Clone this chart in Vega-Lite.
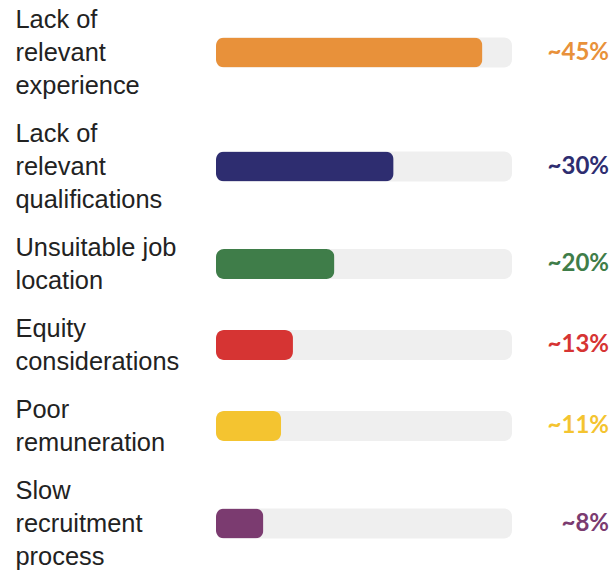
{
  "$schema": "https://vega.github.io/schema/vega-lite/v6.json",
  "padding": {"left": 15, "top": 3, "right": 0, "bottom": 0},
  "background": "white",
  "spacing": 15,
  "config": {
    "view": {"stroke": null},
    "axisY": {"title": null, "domain": false, "ticks": false, "grid": false, "labelAlign": "left", "labelBaseline": "middle", "labelPadding": 201, "labelFont": "Liberation Sans", "labelFontSize": 25.4, "labelLineHeight": 33, "labelColor": "#222222", "labelLimit": 300, "labelExpr": "split(datum.label, '|')"}
  },
  "data": {"values": [
    {"label": "Lack of|relevant|experience", "value": 45, "display": "~45%"},
    {"label": "Lack of|relevant|qualifications", "value": 30, "display": "~30%"},
    {"label": "Unsuitable job|location", "value": 20, "display": "~20%"},
    {"label": "Equity|considerations", "value": 13, "display": "~13%"},
    {"label": "Poor|remuneration", "value": 11, "display": "~11%"},
    {"label": "Slow|recruitment|process", "value": 8, "display": "~8%"}
  ]},
  "vconcat": [
    {"width": 296, "height": 99, "transform": [{"filter": "datum.label == 'Lack of|relevant|experience'"}],
     "encoding": {"y": {"field": "label", "type": "nominal", "axis": {"labelOffset": -33}}},
     "layer": [
      {"mark": {"type": "bar", "color": "#efefef", "cornerRadius": 8, "height": 30}, "encoding": {"x": {"datum": 50, "type": "quantitative", "scale": {"domain": [0, 50]}, "axis": null}}},
      {"mark": {"type": "bar", "cornerRadius": 8, "height": 30}, "encoding": {"x": {"field": "value", "type": "quantitative"}, "color": {"field": "label", "type": "nominal", "legend": null, "scale": {"domain": ["Lack of|relevant|experience", "Lack of|relevant|qualifications", "Unsuitable job|location", "Equity|considerations", "Poor|remuneration", "Slow|recruitment|process"], "range": ["#e8913a", "#2e2d70", "#3f7d49", "#d63433", "#f4c430", "#7b3b70"]}}}},
      {"mark": {"type": "text", "align": "right", "baseline": "middle", "dx": 97, "font": "Lato", "fontWeight": "bold", "fontSize": 24}, "encoding": {"x": {"datum": 50, "type": "quantitative"}, "text": {"field": "display"}, "color": {"field": "label", "type": "nominal", "legend": null}}}
     ]},
    {"width": 296, "height": 99, "transform": [{"filter": "datum.label == 'Lack of|relevant|qualifications'"}],
     "encoding": {"y": {"field": "label", "type": "nominal", "axis": {"labelOffset": -33}}},
     "layer": [
      {"mark": {"type": "bar", "color": "#efefef", "cornerRadius": 8, "height": 30}, "encoding": {"x": {"datum": 50, "type": "quantitative", "scale": {"domain": [0, 50]}, "axis": null}}},
      {"mark": {"type": "bar", "cornerRadius": 8, "height": 30}, "encoding": {"x": {"field": "value", "type": "quantitative"}, "color": {"field": "label", "type": "nominal", "legend": null, "scale": {"domain": ["Lack of|relevant|experience", "Lack of|relevant|qualifications", "Unsuitable job|location", "Equity|considerations", "Poor|remuneration", "Slow|recruitment|process"], "range": ["#e8913a", "#2e2d70", "#3f7d49", "#d63433", "#f4c430", "#7b3b70"]}}}},
      {"mark": {"type": "text", "align": "right", "baseline": "middle", "dx": 97, "font": "Lato", "fontWeight": "bold", "fontSize": 24}, "encoding": {"x": {"datum": 50, "type": "quantitative"}, "text": {"field": "display"}, "color": {"field": "label", "type": "nominal", "legend": null}}}
     ]},
    {"width": 296, "height": 66, "transform": [{"filter": "datum.label == 'Unsuitable job|location'"}],
     "encoding": {"y": {"field": "label", "type": "nominal", "axis": {"labelOffset": -16.5}}},
     "layer": [
      {"mark": {"type": "bar", "color": "#efefef", "cornerRadius": 8, "height": 30}, "encoding": {"x": {"datum": 50, "type": "quantitative", "scale": {"domain": [0, 50]}, "axis": null}}},
      {"mark": {"type": "bar", "cornerRadius": 8, "height": 30}, "encoding": {"x": {"field": "value", "type": "quantitative"}, "color": {"field": "label", "type": "nominal", "legend": null, "scale": {"domain": ["Lack of|relevant|experience", "Lack of|relevant|qualifications", "Unsuitable job|location", "Equity|considerations", "Poor|remuneration", "Slow|recruitment|process"], "range": ["#e8913a", "#2e2d70", "#3f7d49", "#d63433", "#f4c430", "#7b3b70"]}}}},
      {"mark": {"type": "text", "align": "right", "baseline": "middle", "dx": 97, "font": "Lato", "fontWeight": "bold", "fontSize": 24}, "encoding": {"x": {"datum": 50, "type": "quantitative"}, "text": {"field": "display"}, "color": {"field": "label", "type": "nominal", "legend": null}}}
     ]},
    {"width": 296, "height": 66, "transform": [{"filter": "datum.label == 'Equity|considerations'"}],
     "encoding": {"y": {"field": "label", "type": "nominal", "axis": {"labelOffset": -16.5}}},
     "layer": [
      {"mark": {"type": "bar", "color": "#efefef", "cornerRadius": 8, "height": 30}, "encoding": {"x": {"datum": 50, "type": "quantitative", "scale": {"domain": [0, 50]}, "axis": null}}},
      {"mark": {"type": "bar", "cornerRadius": 8, "height": 30}, "encoding": {"x": {"field": "value", "type": "quantitative"}, "color": {"field": "label", "type": "nominal", "legend": null, "scale": {"domain": ["Lack of|relevant|experience", "Lack of|relevant|qualifications", "Unsuitable job|location", "Equity|considerations", "Poor|remuneration", "Slow|recruitment|process"], "range": ["#e8913a", "#2e2d70", "#3f7d49", "#d63433", "#f4c430", "#7b3b70"]}}}},
      {"mark": {"type": "text", "align": "right", "baseline": "middle", "dx": 97, "font": "Lato", "fontWeight": "bold", "fontSize": 24}, "encoding": {"x": {"datum": 50, "type": "quantitative"}, "text": {"field": "display"}, "color": {"field": "label", "type": "nominal", "legend": null}}}
     ]},
    {"width": 296, "height": 66, "transform": [{"filter": "datum.label == 'Poor|remuneration'"}],
     "encoding": {"y": {"field": "label", "type": "nominal", "axis": {"labelOffset": -16.5}}},
     "layer": [
      {"mark": {"type": "bar", "color": "#efefef", "cornerRadius": 8, "height": 30}, "encoding": {"x": {"datum": 50, "type": "quantitative", "scale": {"domain": [0, 50]}, "axis": null}}},
      {"mark": {"type": "bar", "cornerRadius": 8, "height": 30}, "encoding": {"x": {"field": "value", "type": "quantitative"}, "color": {"field": "label", "type": "nominal", "legend": null, "scale": {"domain": ["Lack of|relevant|experience", "Lack of|relevant|qualifications", "Unsuitable job|location", "Equity|considerations", "Poor|remuneration", "Slow|recruitment|process"], "range": ["#e8913a", "#2e2d70", "#3f7d49", "#d63433", "#f4c430", "#7b3b70"]}}}},
      {"mark": {"type": "text", "align": "right", "baseline": "middle", "dx": 97, "font": "Lato", "fontWeight": "bold", "fontSize": 24}, "encoding": {"x": {"datum": 50, "type": "quantitative"}, "text": {"field": "display"}, "color": {"field": "label", "type": "nominal", "legend": null}}}
     ]},
    {"width": 296, "height": 99, "transform": [{"filter": "datum.label == 'Slow|recruitment|process'"}],
     "encoding": {"y": {"field": "label", "type": "nominal", "axis": {"labelOffset": -33}}},
     "layer": [
      {"mark": {"type": "bar", "color": "#efefef", "cornerRadius": 8, "height": 30}, "encoding": {"x": {"datum": 50, "type": "quantitative", "scale": {"domain": [0, 50]}, "axis": null}}},
      {"mark": {"type": "bar", "cornerRadius": 8, "height": 30}, "encoding": {"x": {"field": "value", "type": "quantitative"}, "color": {"field": "label", "type": "nominal", "legend": null, "scale": {"domain": ["Lack of|relevant|experience", "Lack of|relevant|qualifications", "Unsuitable job|location", "Equity|considerations", "Poor|remuneration", "Slow|recruitment|process"], "range": ["#e8913a", "#2e2d70", "#3f7d49", "#d63433", "#f4c430", "#7b3b70"]}}}},
      {"mark": {"type": "text", "align": "right", "baseline": "middle", "dx": 97, "font": "Lato", "fontWeight": "bold", "fontSize": 24}, "encoding": {"x": {"datum": 50, "type": "quantitative"}, "text": {"field": "display"}, "color": {"field": "label", "type": "nominal", "legend": null}}}
     ]}
  ]
}
